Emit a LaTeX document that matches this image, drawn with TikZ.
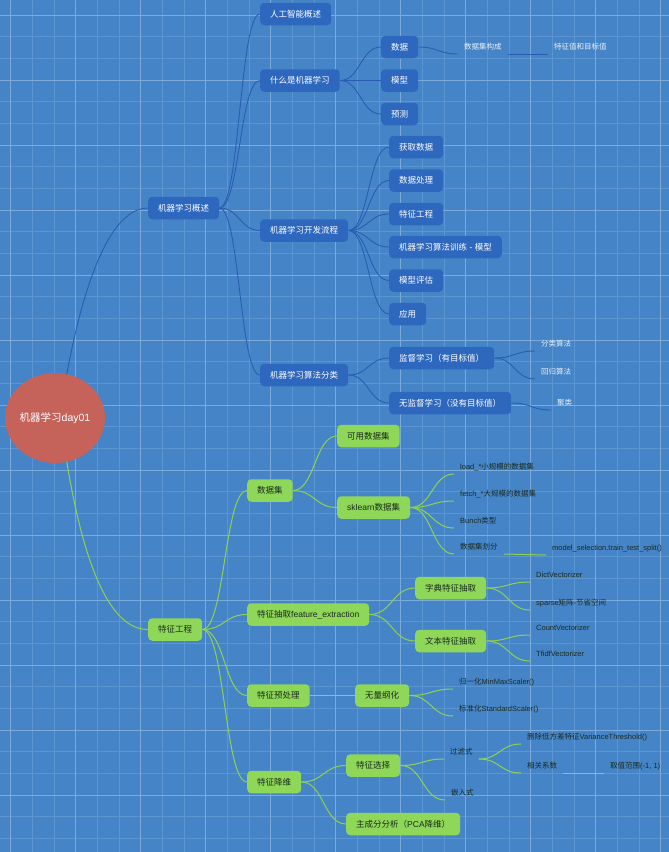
\documentclass[tikz,border=0pt]{standalone}
\usepackage{fontspec}
\setmainfont{Noto Sans CJK SC}
\newfontfamily\lat{Liberation Sans}
\usetikzlibrary{calc,shapes.geometric}
\definecolor{bg}{HTML}{4585C7}
\definecolor{gminor}{HTML}{5C96D2}
\definecolor{gmajor}{HTML}{7CAADB}
\definecolor{bbox}{HTML}{2E68BE}
\definecolor{bline}{HTML}{2A5DB0}
\definecolor{gbox}{HTML}{8ED758}
\definecolor{gline}{HTML}{8FD14F}
\definecolor{rootc}{HTML}{C5625A}
\definecolor{dtext}{HTML}{1B2A1E}
\definecolor{ltext}{HTML}{E8F0FA}
\tikzset{
  sc/.style={to path={.. controls ($(\tikztostart)!0.5!(\tikztostart-|\tikztotarget)$) and ($(\tikztotarget)!0.5!(\tikztotarget-|\tikztostart)$) .. (\tikztotarget)}},
  topic/.style={rectangle, rounded corners=4pt, minimum height=22.5pt, inner xsep=10pt, inner ysep=0pt, anchor=west, font=\fontsize{8.5}{10}\selectfont},
  btopic/.style={topic, fill=bbox, text=white},
  gtopic/.style={topic, fill=gbox, text=dtext},
  leaf/.style={anchor=south west, inner xsep=6pt, inner ysep=3pt, text height=5.5pt, text depth=1pt, font=\fontsize{7.5}{9}\selectfont},
  bleaf/.style={leaf, text=ltext},
  gleaf/.style={leaf, text=dtext},
  bconn/.style={draw=bline, line width=0.9pt},
  gconn/.style={draw=gline, line width=1pt},
}
\begin{document}
\begin{tikzpicture}[x=1pt,y=-1pt]
\useasboundingbox (0,0) rectangle (669,852);
\begin{scope}
\clip (0,0) rectangle (669,852);
\fill[bg] (0,0) rectangle (669,852);
\foreach \i in {0,...,30} {\draw[gminor, line width=0.7pt] ({10.67+\i*21.667},0) -- ({10.67+\i*21.667},852);}
\foreach \i in {0,...,38} {\draw[gminor, line width=0.7pt] (0,{15+\i*21.667}) -- (669,{15+\i*21.667});}
\foreach \i in {0,...,10} {\draw[gmajor, line width=0.9pt] ({10.67+\i*65},0) -- ({10.67+\i*65},852);}
\foreach \i in {0,...,12} {\draw[gmajor, line width=0.9pt] (0,{15+\i*65}) -- (669,{15+\i*65});}
\end{scope}

% root
\node[ellipse, fill=rootc, minimum width=100pt, minimum height=90pt, inner sep=0pt, text=white, font=\fontsize{10.5}{12}\selectfont] (root) at (55,418) {机器学习{\lat day01}};

% blue branch
\node[btopic] (mlgs) at (148,208) {机器学习概述};
\node[btopic] (rgzn) at (260,14) {人工智能概述};
\node[btopic] (smsjq) at (260,80.5) {什么是机器学习};
\node[btopic] (sj) at (381,47) {数据};
\node[btopic] (mx) at (381,80.5) {模型};
\node[btopic] (yc) at (381,114) {预测};
\node[btopic] (kflc) at (260,230.5) {机器学习开发流程};
\node[btopic] (hqsj) at (389,147) {获取数据};
\node[btopic] (sjcl) at (389,180.5) {数据处理};
\node[btopic] (tzgcb) at (389,214) {特征工程};
\node[btopic] (sfxl) at (389,247) {机器学习算法训练{\lat\ -\ }模型};
\node[btopic] (mxpg) at (389,280.5) {模型评估};
\node[btopic] (yy) at (389,314) {应用};
\node[btopic] (sffl) at (260,375) {机器学习算法分类};
\node[btopic] (jdxx) at (389,358) {监督学习（有目标值）};
\node[btopic] (wjd) at (389,403) {无监督学习（没有目标值）};

\node[bleaf] (sjgc) at (458,54) {数据集构成};
\node[bleaf] (tzzm) at (548,54) {特征值和目标值};
\node[bleaf] (flsf) at (535,351) {分类算法};
\node[bleaf] (hgsf) at (535,379) {回归算法};
\node[bleaf] (jl) at (551,410) {聚类};

% green branch
\node[gtopic] (tzgc) at (148,629.5) {特征工程};
\node[gtopic] (sjj) at (247,490.5) {数据集};
\node[gtopic] (kysjj) at (337,436) {可用数据集};
\node[gtopic] (skl) at (337,507.5) {{\lat sklearn}数据集};
\node[gtopic] (tzcq) at (247,614.5) {特征抽取{\lat feature\_extraction}};
\node[gtopic] (zdtz) at (415,588) {字典特征抽取};
\node[gtopic] (wbtz) at (415,641) {文本特征抽取};
\node[gtopic] (tzycl) at (247,695.5) {特征预处理};
\node[gtopic] (wlgh) at (355,695.5) {无量纲化};
\node[gtopic] (tzjw) at (247,782) {特征降维};
\node[gtopic] (tzxz) at (346,765.5) {特征选择};
\node[gtopic] (pca) at (346,824) {主成分分析（{\lat PCA}降维）};

\node[gleaf] (load) at (454,474) {{\lat load\_*}小规模的数据集};
\node[gleaf] (fetch) at (454,501) {{\lat fetch\_*}大规模的数据集};
\node[gleaf] (bunch) at (454,528) {{\lat Bunch}类型};
\node[gleaf] (sjjhf) at (454,554) {数据集划分};
\node[gleaf] (split) at (546,555) {\lat model\_selection.train\_test\_split()};
\node[gleaf] (dictv) at (530,582) {\lat DictVectorizer};
\node[gleaf] (sparse) at (530,610) {{\lat sparse}矩阵{\lat -}节省空间};
\node[gleaf] (countv) at (530,635) {\lat CountVectorizer};
\node[gleaf] (tfidf) at (530,661) {\lat TfidfVectorizer};
\node[gleaf] (minmax) at (453,689) {归一化{\lat MinMaxScaler()}};
\node[gleaf] (standard) at (453,716) {标准化{\lat StandardScaler()}};
\node[gleaf] (glsh) at (444,759) {过滤式};
\node[gleaf] (qrs) at (445,800) {嵌入式};
\node[gleaf] (del) at (521,744) {删除低方差特征{\lat VarianceThreshold()}};
\node[gleaf] (xgxs) at (521,773) {相关系数};
\node[gleaf] (qzfw) at (604,773) {取值范围{\lat (-1, 1)}};

% blue connectors
\draw[bconn] (root.75) .. controls (90,250) and (120,208) .. (mlgs.west);
\foreach \t in {rgzn,smsjq,kflc,sffl} {\draw[bconn] (mlgs.east) to[sc] (\t.west);}
\foreach \t in {sj,mx,yc} {\draw[bconn] (smsjq.east) to[sc] (\t.west);}
\draw[bconn] (sj.east) to[sc] (sjgc.south west);
\draw[bconn] (sjgc.south east) to[sc] (tzzm.south west);
\foreach \t in {hqsj,sjcl,tzgcb,sfxl,mxpg,yy} {\draw[bconn] (kflc.east) to[sc] (\t.west);}
\foreach \t in {jdxx,wjd} {\draw[bconn] (sffl.east) to[sc] (\t.west);}
\foreach \t in {flsf,hgsf} {\draw[bconn] (jdxx.east) to[sc] (\t.south west);}
\draw[bconn] (wjd.east) to[sc] (jl.south west);

% green connectors
\draw[gconn] (root.-75) .. controls (88,590) and (118,629.5) .. (tzgc.west);
\foreach \t in {sjj,tzcq,tzycl,tzjw} {\draw[gconn] (tzgc.east) to[sc] (\t.west);}
\foreach \t in {kysjj,skl} {\draw[gconn] (sjj.east) to[sc] (\t.west);}
\foreach \t in {load,fetch,bunch,sjjhf} {\draw[gconn] (skl.east) to[sc] (\t.south west);}
\draw[gconn] (sjjhf.south east) to[sc] (split.south west);
\foreach \t in {zdtz,wbtz} {\draw[gconn] (tzcq.east) to[sc] (\t.west);}
\foreach \t in {dictv,sparse} {\draw[gconn] (zdtz.east) to[sc] (\t.south west);}
\foreach \t in {countv,tfidf} {\draw[gconn] (wbtz.east) to[sc] (\t.south west);}
\draw[gconn] (tzycl.east) to[sc] (wlgh.west);
\foreach \t in {minmax,standard} {\draw[gconn] (wlgh.east) to[sc] (\t.south west);}
\foreach \t in {tzxz,pca} {\draw[gconn] (tzjw.east) to[sc] (\t.west);}
\foreach \t in {glsh,qrs} {\draw[gconn] (tzxz.east) to[sc] (\t.south west);}
\foreach \t in {del,xgxs} {\draw[gconn] (glsh.south east) to[sc] (\t.south west);}
\draw[gconn] (xgxs.south east) to[sc] (qzfw.south west);
\end{tikzpicture}
\end{document}
